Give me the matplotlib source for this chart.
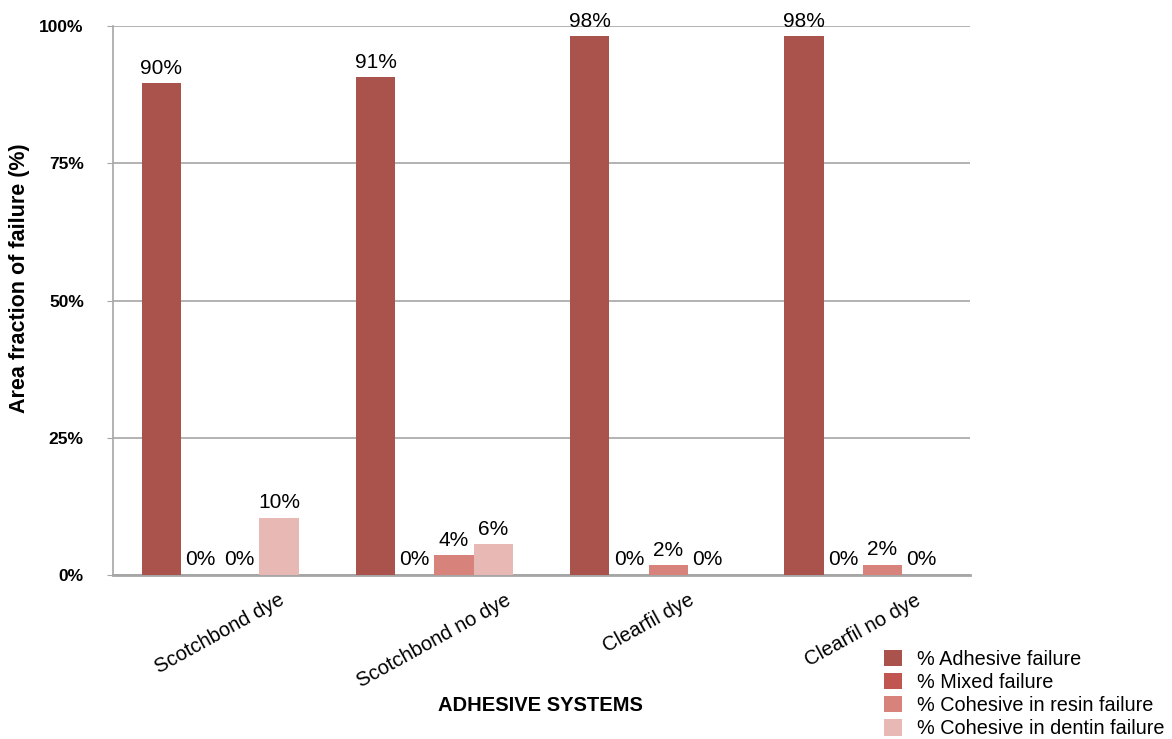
import numpy as np
import matplotlib
matplotlib.use("Agg")
import matplotlib.pyplot as plt
import matplotlib.ticker as mticker

plt.rcParams["font.family"] = ["Liberation Sans", "DejaVu Sans"]

systems = ["Scotchbond dye", "Scotchbond no dye", "Clearfil dye", "Clearfil no dye"]
series_names = [
    "% Adhesive failure",
    "% Mixed failure",
    "% Cohesive in resin failure",
    "% Cohesive in dentin failure",
]
adhesive = [89.6, 90.7, 98.1, 98.1]
mixed = [0.0, 0.0, 0.0, 0.0]
resin = [0.0, 3.6, 1.8, 1.9]
dentin = [10.4, 5.6, 0.0, 0.0]
colors = ["#a9534c", "#c0564f", "#d8827c", "#e8b8b4"]

fig = plt.figure(figsize=(11.72, 7.39), dpi=100)
ax = fig.add_axes([0.0964, 0.2219, 0.7312, 0.7429])

x = np.arange(len(systems))
width = 0.183
for i, (vals, name, c) in enumerate(zip([adhesive, mixed, resin, dentin], series_names, colors)):
    pos = x + (i - 1.5) * width
    bars = ax.bar(pos, vals, width, color=c, label=name, zorder=3)
    for b, v in zip(bars, vals):
        ax.annotate(f"{v:.0f}%", (b.get_x() + b.get_width() / 2, v),
                    xytext=(0, 4), textcoords="offset points",
                    ha="center", va="bottom", fontsize=15)

ax.set_xlim(-0.5, len(systems) - 0.5)
ax.set_ylim(0, 100)
ax.set_yticks([0, 25, 50, 75, 100])
ax.yaxis.set_major_formatter(mticker.FuncFormatter(lambda v, _: f"{v:.0f}%"))
for lbl in ax.get_yticklabels():
    lbl.set_fontweight("bold")
ax.tick_params(axis="y", labelsize=12.5, length=4, color="#a6a6a6", pad=17)
ax.set_xticks(x)
ax.set_xticklabels(systems, rotation=29, ha="center", va="top", fontsize=14.5)
ax.tick_params(axis="x", length=0, pad=11)

ax.grid(axis="y", color="#a6a6a6", linewidth=1.2, zorder=0)
ax.spines["top"].set_visible(False)
ax.spines["right"].set_visible(False)
ax.spines["left"].set_color("#a6a6a6")
ax.spines["left"].set_linewidth(1.2)
ax.spines["bottom"].set_color("#a6a6a6")
ax.spines["bottom"].set_linewidth(2)

ax.set_ylabel("Area fraction of failure (%)", fontsize=15.5, fontweight="bold")
ax.yaxis.set_label_coords(-0.097, 0.541)
fig.text(0.461, 0.046, "ADHESIVE SYSTEMS", fontsize=14.5, fontweight="bold", ha="center", va="center")

fig.legend(loc="lower right", bbox_to_anchor=(1.0085, -0.023), frameon=False, fontsize=14.3,
           handlelength=0.9, handleheight=0.9, handletextpad=0.75, labelspacing=0.2)

fig.savefig("out.png", dpi=100)
